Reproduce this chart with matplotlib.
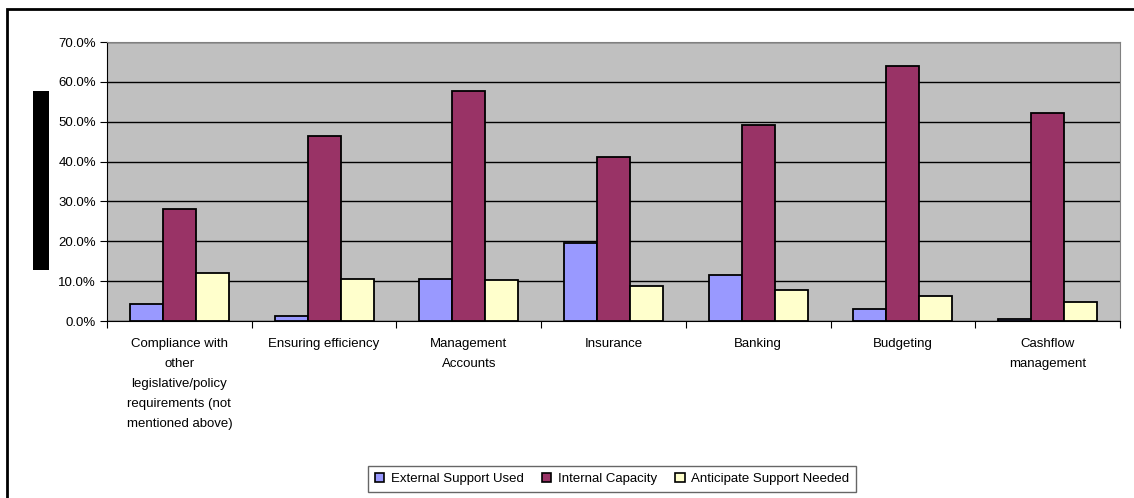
import matplotlib
matplotlib.use("Agg")
import matplotlib.pyplot as plt
import numpy as np
from matplotlib.patches import Rectangle

plt.rcParams['font.family'] = ['Liberation Sans', 'DejaVu Sans']

categories = ["Compliance with\nother\nlegislative/policy\nrequirements (not\nmentioned above)",
              "Ensuring efficiency", "Management\nAccounts", "Insurance", "Banking",
              "Budgeting", "Cashflow\nmanagement"]
external = [4.3, 1.3, 10.6, 19.5, 11.6, 2.9, 0.4]
internal = [28.2, 46.5, 57.6, 41.1, 49.3, 64.1, 52.3]
anticipate = [12.1, 10.6, 10.3, 8.8, 7.8, 6.3, 4.8]
series_names = ["External Support Used", "Internal Capacity", "Anticipate Support Needed"]
colors = ["#9999FF", "#993366", "#FFFFCC"]
yticks = [0, 10, 20, 30, 40, 50, 60, 70]

W, H = 1134, 498
fig = plt.figure(figsize=(W / 100, H / 100), dpi=100)
ax = fig.add_axes([107 / W, 1 - 321 / H, (1120 - 107) / W, (321 - 42) / H])
ax.set_facecolor("#C0C0C0")

x = np.arange(len(categories))
bw = 0.228
for i, (vals, c, name) in enumerate(zip([external, internal, anticipate], colors, series_names)):
    ax.bar(x + (i - 1) * bw, vals, width=bw, color=c, edgecolor="black", linewidth=1.3,
           label=name, zorder=3)

ax.set_xlim(-0.5, len(categories) - 0.5)
ax.set_ylim(0, 70)
ax.set_yticks(yticks)
ax.set_yticklabels([f"{v:.1f}%" for v in yticks], fontsize=9.5)
ax.yaxis.grid(True, color="black", linewidth=1.0, zorder=1)
ax.set_axisbelow(True)

ax.set_xticks(np.arange(len(categories) + 1) - 0.5, minor=False)
ax.set_xticklabels([])
ax.set_xticks(x, minor=True)
ax.set_xticklabels(categories, minor=True, fontsize=9.5, linespacing=1.9, va="top")
ax.tick_params(axis="x", which="minor", length=0, pad=12)
ax.tick_params(axis="x", which="major", length=5, direction="out", color="black")
ax.tick_params(axis="y", length=5, direction="out", pad=3)

for s in ["top", "right"]:
    ax.spines[s].set_color("#808080")
ax.spines["left"].set_color("black")
ax.spines["bottom"].set_color("black")

# outer border
fig.patches.append(Rectangle((7 / W, -0.1), 1.2, 1 - 9 / H + 0.1, transform=fig.transFigure,
                             fill=False, edgecolor="black", linewidth=2))
# black bar (redacted axis title)
fig.patches.append(Rectangle((33 / W, 1 - 270 / H), 16 / W, 179 / H, transform=fig.transFigure,
                             facecolor="black", edgecolor="none"))

leg = fig.legend(loc="center", bbox_to_anchor=(612 / W, 1 - 479 / H), ncol=3, fontsize=9.5,
                 frameon=True, fancybox=False, edgecolor="#404040", handlelength=0.7,
                 handleheight=0.7, handletextpad=0.5, columnspacing=1.4, borderpad=0.5)
leg.get_frame().set_linewidth(1.0)
for h in leg.legend_handles:
    h.set_linewidth(1.2)

fig.savefig("out.png", dpi=100)
